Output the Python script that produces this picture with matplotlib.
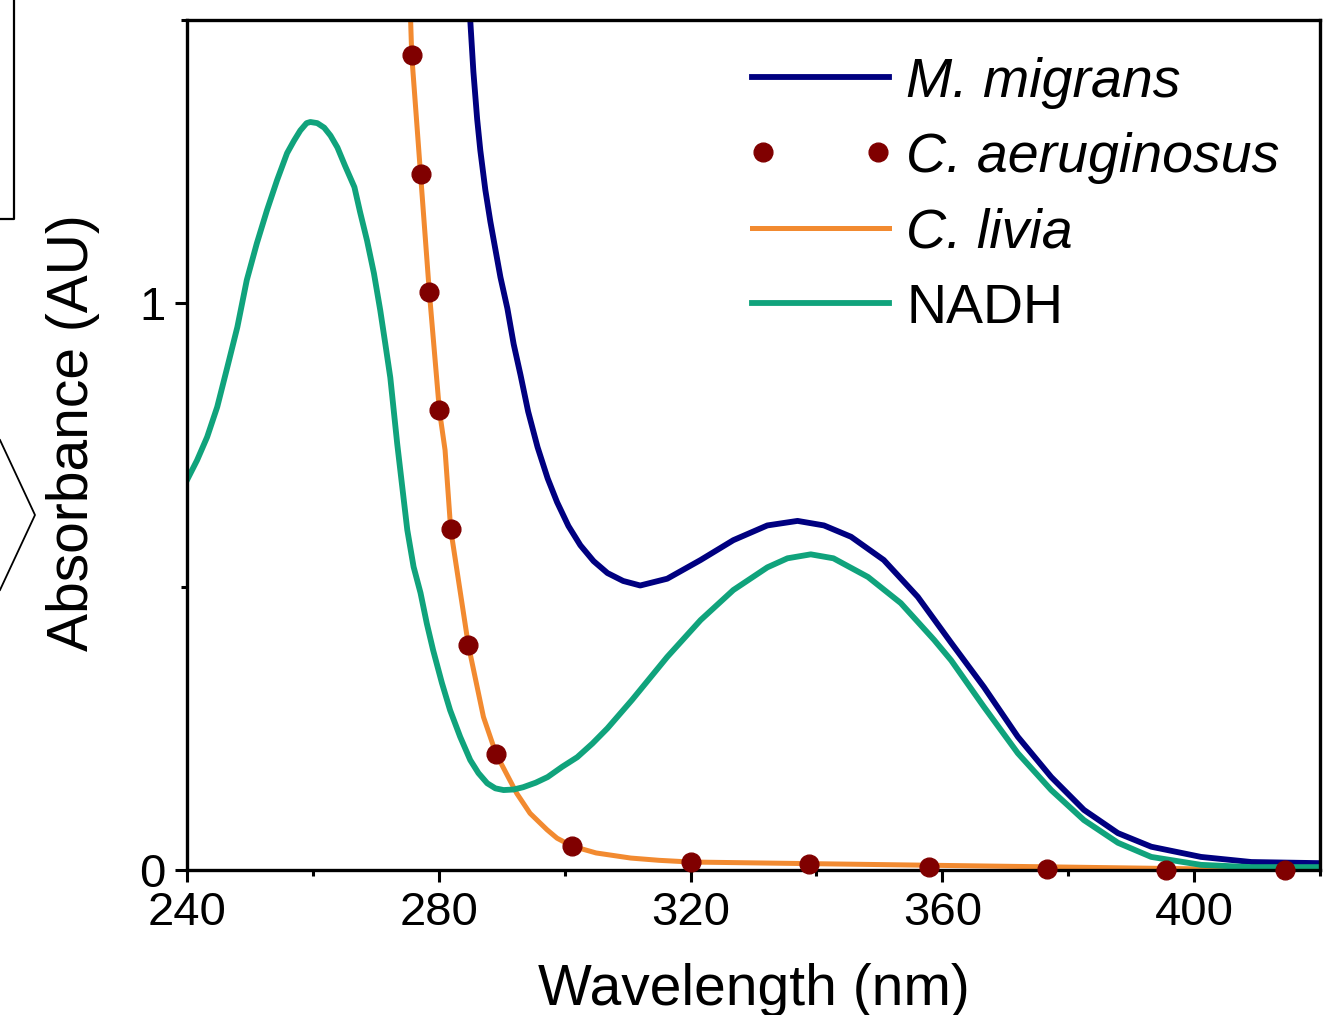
import matplotlib
matplotlib.use("Agg")
import matplotlib.pyplot as plt
from matplotlib.lines import Line2D
from matplotlib.legend_handler import HandlerLine2D
from matplotlib.ticker import MultipleLocator

plt.rcParams['font.family'] = ['Liberation Sans', 'DejaVu Sans']

# M. migrans (navy line)
mig_x = [285.0, 285.5, 286.1, 286.6, 287.4, 288.2, 289.0, 289.8, 290.9, 291.9,
         293.0, 294.2, 295.7, 297.3, 298.8, 300.6, 302.5, 304.6, 306.8, 309.3,
         312.0, 316.3, 321.6, 326.8, 332.2, 337.0, 341.2, 345.5, 350.7, 356.1,
         361.4, 366.6, 372.0, 377.3, 382.5, 387.9, 393.2, 401.1, 409.1, 420.0]
mig_y = [1.500, 1.409, 1.325, 1.270, 1.200, 1.144, 1.095, 1.046, 0.991, 0.928,
         0.873, 0.809, 0.746, 0.691, 0.649, 0.607, 0.573, 0.545, 0.524, 0.510,
         0.502, 0.514, 0.547, 0.582, 0.608, 0.616, 0.608, 0.588, 0.547, 0.482,
         0.401, 0.323, 0.235, 0.164, 0.106, 0.065, 0.041, 0.023, 0.014, 0.012]

# C. aeruginosus (dots)
aer_x = [275.7, 277.1, 278.5, 280.1, 281.9, 284.7, 289.1, 301.2, 320.0, 338.9,
         357.9, 376.7, 395.6, 414.5]
aer_y = [1.439, 1.229, 1.020, 0.811, 0.601, 0.397, 0.205, 0.042, 0.014, 0.011,
         0.005, 0.002, 0.000, 0.000]

# C. livia (orange line)
liv_x = [275.5, 275.7, 277.1, 278.5, 280.1, 281.0, 281.9, 284.7, 287.1, 289.1,
         292.4, 294.5, 297.2, 298.8, 301.2, 305.0, 310.5, 315.0, 320.0, 340.0,
         360.0, 380.0, 400.0, 420.0]
liv_y = [1.510, 1.439, 1.229, 1.020, 0.811, 0.741, 0.601, 0.397, 0.270, 0.205,
         0.135, 0.100, 0.071, 0.056, 0.042, 0.030, 0.021, 0.017, 0.014, 0.011,
         0.008, 0.005, 0.002, 0.000]

# NADH (green line)
nadh_x = [240.0, 241.6, 243.2, 244.8, 246.4, 248.0, 249.5, 251.1, 252.7, 254.3,
          255.9, 257.0, 258.0, 259.0, 259.6, 260.7, 261.8, 262.8, 263.9, 265.1,
          266.6, 267.5, 268.6, 269.7, 270.7, 271.5, 272.3, 273.4, 275.0, 276.0,
          277.1, 278.1, 279.1, 280.5, 281.8, 283.4, 285.0, 286.3, 287.7, 289.0,
          290.3, 291.9, 293.4, 295.4, 297.3, 299.6, 302.0, 304.4, 306.8, 310.7,
          316.3, 321.6, 326.8, 332.2, 335.4, 339.1, 342.7, 348.2, 353.4, 358.7,
          361.4, 366.6, 372.0, 377.3, 382.5, 387.9, 393.2, 401.1, 409.1, 420.0]
nadh_y = [0.688, 0.723, 0.764, 0.817, 0.887, 0.958, 1.041, 1.106, 1.164, 1.217,
          1.265, 1.287, 1.305, 1.318, 1.320, 1.318, 1.310, 1.296, 1.275, 1.243,
          1.205, 1.161, 1.111, 1.053, 0.988, 0.929, 0.869, 0.752, 0.600, 0.535,
          0.489, 0.435, 0.388, 0.330, 0.282, 0.235, 0.194, 0.171, 0.153, 0.144,
          0.141, 0.142, 0.146, 0.154, 0.164, 0.182, 0.199, 0.223, 0.250, 0.300,
          0.376, 0.441, 0.494, 0.534, 0.550, 0.557, 0.550, 0.517, 0.471, 0.406,
          0.370, 0.288, 0.206, 0.141, 0.088, 0.048, 0.023, 0.009, 0.005, 0.005]

fig = plt.figure(figsize=(13.29, 10.15), dpi=100)
ax = fig.add_axes([0.1407, 0.1429, 0.8525, 0.8374])

ax.plot(mig_x, mig_y, color='#000080', lw=4.2, label='M. migrans')
dots, = ax.plot(aer_x, aer_y, ls='none', marker='o', ms=13.5, color='#800000',
                clip_on=False, zorder=5, label='C. aeruginosus')
ax.plot(liv_x, liv_y, color='#F28A30', lw=3.6, label='C. livia')
ax.plot(nadh_x, nadh_y, color='#10A37C', lw=4.2, label='NADH')

ax.set_xlim(240, 420)
ax.set_ylim(0, 1.5)
ax.xaxis.set_major_locator(MultipleLocator(40))
ax.xaxis.set_minor_locator(MultipleLocator(20))
ax.yaxis.set_major_locator(MultipleLocator(1))
ax.yaxis.set_minor_locator(MultipleLocator(0.5))

for s in ax.spines.values():
    s.set_linewidth(2.4)
ax.tick_params(which='major', direction='out', length=8.5, width=2.2,
               labelsize=34, pad=7)
ax.tick_params(which='minor', direction='out', length=4, width=2.2)

ax.set_xlabel('Wavelength (nm)', fontsize=41, labelpad=20)
ax.set_ylabel('Absorbance (AU)', fontsize=41, labelpad=28)
ax.yaxis.label.set_y(0.515)

leg = ax.legend(loc='upper left', bbox_to_anchor=(0.4837, 0.957), frameon=False,
                fontsize=40, handlelength=3.08, handletextpad=0.0,
                labelspacing=0.42, numpoints=2, borderpad=0, borderaxespad=0,
                handler_map={dots: HandlerLine2D(marker_pad=0.5)})
for t in leg.get_texts()[:3]:
    t.set_fontstyle('italic')

# fragments of the neighbouring panel cut by the crop
W, H = 1329.0, 1015.0
fig.add_artist(Line2D([0, 14 / W, 14 / W], [1 - 219 / H, 1 - 219 / H, 1.0],
                      color='black', lw=1.6))
fig.add_artist(Line2D([0, 35 / W, 0], [1 - 440 / H, 1 - 515 / H, 1 - 590 / H],
                      color='black', lw=1.3))

fig.savefig('out.png', dpi=100)
